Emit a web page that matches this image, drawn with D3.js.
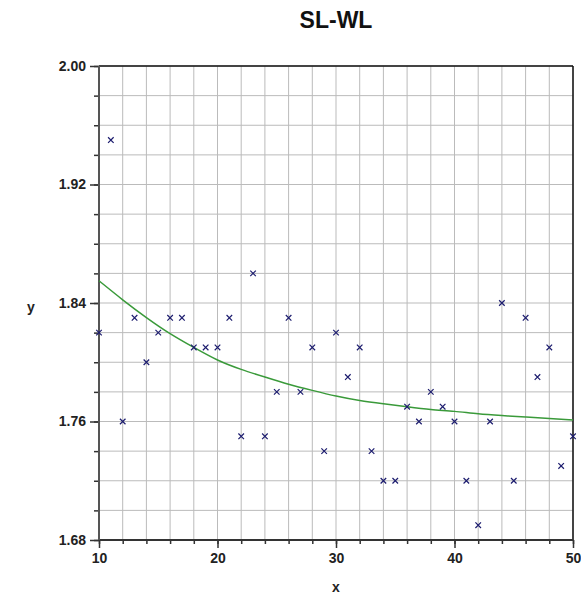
<!DOCTYPE html>
<html>
<head>
<meta charset="utf-8">
<script src="https://cdn.jsdelivr.net/npm/d3@7"></script>
<style>
body{margin:0;background:#fff}
svg{display:block}
</style>
</head>
<body>
<div id="chart"></div>
<script>
const title="SL-WL"
const xTicks=[10,20,30,40,50]
const yTicks=[1.68,1.76,1.84,1.92,2.00]

// observed points
const px=[10,11,12,13,14,15,16,17,18,19,20,21,22,23,24,25,26,27,28,29,30,31,32,33,34,35,36,37,38,39,40,41,42,43,44,45,46,47,48,49,50]
const py=[1.82,1.95,1.76,1.83,1.80,1.82,1.83,1.83,1.81,1.81,1.81,1.83,1.75,1.86,1.75,1.78,1.83,1.78,1.81,1.74,1.82,1.79,1.81,1.74,1.72,1.72,1.77,1.76,1.78,1.77,1.76,1.72,1.69,1.76,1.84,1.72,1.83,1.79,1.81,1.73,1.75]

// fitted curve
const cx=[10,12,14,16,18,20,22,24,26,28,30,32,34,36,38,40,42,44,46,48,50]
const cy=[1.855,1.842,1.830,1.819,1.810,1.801,1.795,1.790,1.785,1.781,1.777,1.774,1.772,1.770,1.768,1.767,1.765,1.764,1.763,1.762,1.761]

const W=581,H=597
const m={top:66,right:8,bottom:57,left:99}
const w=W-m.left-m.right
const h=H-m.top-m.bottom

const svg=d3.select("#chart").append("svg")
.attr("width",W)
.attr("height",H)
.style("font-family","'Liberation Sans',Arial,sans-serif")

const g=svg.append("g").attr("transform",`translate(${m.left},${m.top})`)

const x=d3.scaleLinear().domain([10,50]).range([0,w])
const y=d3.scaleLinear().domain([1.68,2.00]).range([h,0])

const xMinor=d3.range(10,50.001,2)
const yMinor=d3.range(0,17).map(i=>+(1.68+i*0.02).toFixed(2))

// grid
g.append("g")
.selectAll("line")
.data(xMinor)
.enter()
.append("line")
.attr("x1",d=>x(d)).attr("x2",d=>x(d))
.attr("y1",0).attr("y2",h)
.attr("stroke","#bbbbbb")
.attr("stroke-width",1)

g.append("g")
.selectAll("line")
.data(yMinor)
.enter()
.append("line")
.attr("x1",0).attr("x2",w)
.attr("y1",d=>y(d)).attr("y2",d=>y(d))
.attr("stroke","#bbbbbb")
.attr("stroke-width",1)

// minor ticks
const xAxisMinor=d3.axisBottom(x).tickValues(xMinor).tickSize(4).tickFormat("")
const yAxisMinor=d3.axisLeft(y).tickValues(yMinor).tickSize(5).tickFormat("")

g.append("g").attr("transform",`translate(0,${h})`).call(xAxisMinor)
.call(s=>s.select(".domain").remove())
.selectAll("line").attr("stroke","#333").attr("stroke-width",1.5)

g.append("g").call(yAxisMinor)
.call(s=>s.select(".domain").remove())
.selectAll("line").attr("stroke","#333").attr("stroke-width",1.5)

// major axes
const xAxis=d3.axisBottom(x).tickValues(xTicks).tickSize(8).tickPadding(5).tickFormat(d3.format("d"))
const yAxis=d3.axisLeft(y).tickValues(yTicks).tickSize(9).tickPadding(4).tickFormat(d3.format(".2f"))

const xa=g.append("g").attr("transform",`translate(0,${h})`).call(xAxis)
xa.select(".domain").remove()
xa.selectAll("line").attr("stroke","#333").attr("stroke-width",1.5)
xa.selectAll("text").attr("font-size","14px").attr("font-weight","bold").attr("fill","#222")

const ya=g.append("g").call(yAxis)
ya.select(".domain").remove()
ya.selectAll("line").attr("stroke","#333").attr("stroke-width",1.5)
ya.selectAll("text").attr("font-size","14px").attr("font-weight","bold").attr("fill","#222")

// frame
g.append("line").attr("x1",0).attr("x2",w).attr("y1",0).attr("y2",0).attr("stroke","#111").attr("stroke-width",1.5)
g.append("line").attr("x1",w).attr("x2",w).attr("y1",0).attr("y2",h).attr("stroke","#111").attr("stroke-width",1.5)
g.append("line").attr("x1",0).attr("x2",w).attr("y1",h).attr("y2",h).attr("stroke","#333").attr("stroke-width",2)
g.append("line").attr("x1",0).attr("x2",0).attr("y1",0).attr("y2",h).attr("stroke","#555").attr("stroke-width",2)

// curve
const curve=cx.map((v,i)=>({x:v,y:cy[i]}))
g.append("path")
.datum(curve)
.attr("fill","none")
.attr("stroke","#3a9a3a")
.attr("stroke-width",1.5)
.attr("d",d3.line().x(d=>x(d.x)).y(d=>y(d.y)).curve(d3.curveBasis))

// points
const pts=px.map((v,i)=>({x:v,y:py[i]}))
g.append("g")
.selectAll("path")
.data(pts)
.enter()
.append("path")
.attr("transform",d=>`translate(${x(d.x)},${y(d.y)})`)
.attr("d",d3.symbol(d3.symbolTimes).size(22))
.attr("fill","none")
.attr("stroke","#1c1c6e")
.attr("stroke-width",1.2)

// labels
svg.append("text")
.attr("x",336).attr("y",28)
.attr("text-anchor","middle")
.attr("font-size","23px")
.attr("font-weight","bold")
.attr("fill","#111")
.text(title)

svg.append("text")
.attr("x",31).attr("y",312)
.attr("text-anchor","middle")
.attr("font-size","14px")
.attr("font-weight","bold")
.attr("fill","#222")
.text("y")

svg.append("text")
.attr("x",336).attr("y",592)
.attr("text-anchor","middle")
.attr("font-size","14px")
.attr("font-weight","bold")
.attr("fill","#222")
.text("x")
</script>
</body>
</html>
